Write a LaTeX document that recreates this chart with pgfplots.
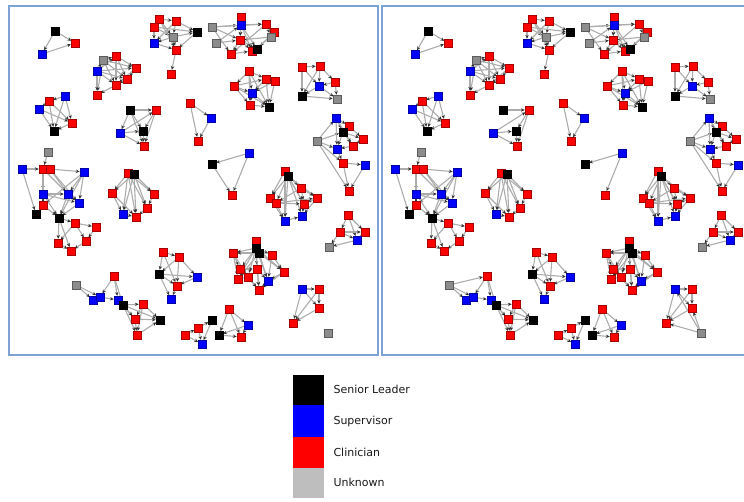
\documentclass[border=0pt]{standalone}
\usepackage{pgfplots}
\pgfplotsset{compat=1.18}
\usepackage{pgfplotstable}
\usepackage{fontspec}
\setmainfont{DejaVu Sans}
\usetikzlibrary{arrows.meta}

\pgfplotstableread{
x y
55 31
197 32
257 49
269 107
302 96
54 131
130 110
143 131
343 132
212 164
36 214
59 218
134 174
288 176
256 248
259 253
159 274
123 305
160 320
212 320
219 335
}\blacknodes

\pgfplotstableread{
x y
42 54
154 43
241 25
97 71
252 93
319 86
65 96
39 109
120 133
211 118
336 118
337 149
365 165
249 153
22 169
84 172
43 194
68 194
79 203
123 214
285 221
302 216
357 240
268 281
197 277
171 299
93 300
100 297
118 300
202 344
248 325
302 289
}\bluenodes

\pgfplotstableread{
x y
75 43
159 19
176 21
154 27
176 50
171 74
241 17
266 24
274 32
240 40
231 54
252 51
116 56
136 68
127 79
116 85
97 95
249 71
234 86
266 79
275 81
250 105
302 67
320 66
335 82
49 101
72 123
156 110
144 146
190 103
198 141
349 126
363 139
353 146
343 163
232 195
43 169
50 169
43 205
75 223
96 227
58 243
71 251
86 241
128 173
112 193
154 194
147 208
136 217
285 171
301 188
270 198
276 203
317 198
304 204
349 191
348 215
340 232
365 232
256 241
233 253
272 255
240 269
257 269
284 272
238 279
248 277
259 290
163 252
179 257
177 286
114 276
143 304
135 319
137 335
185 335
198 328
229 309
241 337
319 289
319 308
293 323
}\rednodes

\pgfplotstableread{
x y
173 37
212 27
216 43
271 37
103 60
337 99
317 141
48 152
329 247
76 285
328 333
}\graynodes

\pgfplotstableread{
x1 y1 x2 y2
55 31 75 43
55 31 42 54
42 54 75 43
159 19 176 21
159 19 154 27
159 19 173 37
176 21 197 32
176 21 173 37
154 27 154 43
154 27 173 37
173 37 197 32
173 37 154 43
154 43 176 50
173 37 176 50
197 32 176 50
159 19 176 50
154 27 197 32
176 50 171 74
176 21 154 43
212 27 241 25
212 27 240 40
212 27 231 54
216 43 240 40
216 43 241 25
241 17 241 25
241 25 266 24
241 25 240 40
241 25 257 49
266 24 274 32
266 24 271 37
274 32 257 49
271 37 240 40
240 40 231 54
240 40 252 51
240 40 257 49
231 54 252 51
252 51 257 49
241 25 252 51
241 17 240 40
271 37 252 51
266 24 231 54
212 27 266 24
103 60 116 56
103 60 136 68
103 60 127 79
103 60 116 85
116 56 136 68
116 56 127 79
116 56 116 85
97 71 103 60
97 71 116 56
97 71 127 79
97 71 116 85
97 71 97 95
136 68 127 79
136 68 116 85
127 79 116 85
116 85 97 95
97 71 136 68
103 60 97 95
249 71 234 86
249 71 266 79
249 71 252 93
249 71 269 107
234 86 252 93
234 86 250 105
234 86 269 107
266 79 275 81
266 79 252 93
266 79 269 107
275 81 269 107
252 93 250 105
252 93 269 107
250 105 269 107
234 86 266 79
249 71 250 105
275 81 252 93
302 67 320 66
302 67 319 86
302 67 302 96
320 66 335 82
320 66 319 86
335 82 319 86
319 86 302 96
319 86 337 99
302 96 337 99
335 82 337 99
320 66 302 96
65 96 49 101
49 101 39 109
49 101 72 123
49 101 54 131
39 109 54 131
39 109 72 123
65 96 72 123
65 96 54 131
72 123 54 131
130 110 156 110
156 110 143 131
156 110 144 146
120 133 143 131
120 133 144 146
143 131 144 146
120 133 156 110
190 103 211 118
190 103 198 141
211 118 198 141
336 118 349 126
336 118 343 132
336 118 353 146
349 126 343 132
349 126 363 139
343 132 363 139
343 132 353 146
343 132 337 149
363 139 353 146
353 146 337 149
317 141 343 132
317 141 337 149
317 141 343 163
317 141 349 191
337 149 343 163
343 163 365 165
343 163 349 191
365 165 349 191
317 141 336 118
336 118 337 149
249 153 212 164
249 153 232 195
48 152 43 169
22 169 43 169
43 169 50 169
50 169 84 172
22 169 36 214
43 169 43 194
50 169 68 194
43 169 68 194
84 172 68 194
84 172 79 203
84 172 43 205
43 194 68 194
43 194 59 218
68 194 79 203
68 194 59 218
79 203 59 218
43 205 59 218
43 205 43 194
59 218 75 223
59 218 58 243
59 218 71 251
75 223 96 227
75 223 86 241
96 227 86 241
86 241 71 251
58 243 71 251
75 223 58 243
50 169 79 203
84 172 59 218
43 169 43 205
43 194 79 203
134 174 112 193
134 174 154 194
134 174 147 208
134 174 123 214
134 174 136 217
128 173 112 193
128 173 123 214
128 173 136 217
128 173 147 208
112 193 123 214
154 194 147 208
147 208 136 217
123 214 136 217
112 193 136 217
128 173 154 194
288 176 301 188
288 176 270 198
288 176 276 203
288 176 317 198
288 176 304 204
288 176 285 221
288 176 302 216
285 171 270 198
285 171 285 221
285 171 304 204
301 188 317 198
301 188 304 204
270 198 276 203
270 198 285 221
276 203 285 221
276 203 304 204
317 198 304 204
304 204 302 216
317 198 302 216
285 221 302 216
276 203 317 198
301 188 276 203
348 215 340 232
348 215 365 232
348 215 357 240
340 232 357 240
340 232 329 247
365 232 357 240
357 240 329 247
340 232 365 232
256 248 233 253
256 248 272 255
256 248 240 269
256 248 257 269
256 248 284 272
256 248 238 279
256 248 248 277
256 248 268 281
256 248 259 290
259 253 284 272
259 253 238 279
256 241 256 248
233 253 240 269
233 253 238 279
272 255 284 272
240 269 257 269
240 269 248 277
257 269 268 281
257 269 259 290
284 272 268 281
268 281 259 290
238 279 248 277
248 277 259 290
272 255 268 281
233 253 248 277
284 272 259 290
240 269 259 290
259 253 233 253
259 253 268 281
163 252 179 257
163 252 159 274
163 252 177 286
179 257 159 274
179 257 197 277
179 257 177 286
159 274 177 286
159 274 197 277
197 277 177 286
177 286 171 299
159 274 171 299
76 285 93 300
76 285 100 297
93 300 100 297
100 297 118 300
114 276 100 297
114 276 118 300
114 276 123 305
118 300 123 305
123 305 143 304
123 305 135 319
123 305 160 320
123 305 137 335
143 304 160 320
143 304 135 319
135 319 160 320
135 319 137 335
137 335 160 320
118 300 135 319
143 304 137 335
185 335 198 328
198 328 212 320
185 335 202 344
198 328 202 344
212 320 202 344
229 309 248 325
229 309 219 335
229 309 241 337
248 325 219 335
248 325 241 337
219 335 241 337
302 289 319 289
302 289 319 308
302 289 293 323
319 289 319 308
319 289 293 323
319 308 293 323
}\edges

\pgfplotstableread{
x1 y1 x2 y2
130 110 143 131
130 110 120 133
130 110 144 146
212 164 232 195
}\leftedges

\pgfplotstableread{
x1 y1 x2 y2
328 333 302 289
328 333 319 308
328 333 293 323
76 285 114 276
}\rightedges

\definecolor{framec}{RGB}{125,162,212}
\definecolor{edgec}{RGB}{172,172,172}
\definecolor{nodegray}{RGB}{140,140,140}
\definecolor{leggray}{RGB}{190,190,190}

\begin{document}
\begin{tikzpicture}
\pgfplotsset{
  edge/.style={
    quiver={u=\thisrow{x2}-\thisrow{x1}, v=\thisrow{y2}-\thisrow{y1}},
    draw=edgec, line width=1.1pt,
    -{Stealth[length=3.8pt,width=3.4pt,color=black!80]}, shorten >=4.3pt},
  nd/.style={only marks, mark=square*, mark size=4.3pt,
    mark options={fill=#1, draw=#1!65!black, line width=0.3pt}},
}
\begin{axis}[
  scale only axis, width=744pt, height=501pt,
  xmin=0, xmax=744, ymin=0, ymax=501, y dir=reverse,
  hide axis,
]
\addplot[draw=none] coordinates {(0,0) (744,501)};
% frames
\draw[framec, line width=1.6pt] (axis cs:9,6) rectangle (axis cs:378,355);
\draw[framec, line width=1.6pt] (axis cs:750,6) -- (axis cs:382,6) -- (axis cs:382,355) -- (axis cs:750,355);

% left panel
\addplot[edge] table[x=x1, y=y1] {\edges};
\addplot[edge] table[x=x1, y=y1] {\leftedges};
\addplot[nd=red] table {\rednodes};
\addplot[nd=blue] table {\bluenodes};
\addplot[nd=nodegray] table {\graynodes};
\addplot[nd=black] table {\blacknodes};

% right panel
\addplot[edge] table[x expr=\thisrow{x1}+373, y=y1] {\edges};
\addplot[edge] table[x expr=\thisrow{x1}+373, y=y1] {\rightedges};
\addplot[nd=red] table[x expr=\thisrow{x}+373, y=y] {\rednodes};
\addplot[nd=blue] table[x expr=\thisrow{x}+373, y=y] {\bluenodes};
\addplot[nd=nodegray] table[x expr=\thisrow{x}+373, y=y] {\graynodes};
\addplot[nd=black] table[x expr=\thisrow{x}+373, y=y] {\blacknodes};

% legend
\fill[black] (axis cs:293,375) rectangle (axis cs:324,405);
\fill[blue] (axis cs:293,405) rectangle (axis cs:324,437);
\fill[red] (axis cs:293,437) rectangle (axis cs:324,468);
\fill[leggray] (axis cs:293,468) rectangle (axis cs:324,498);
\node[anchor=west, font=\fontsize{11}{13}\selectfont, text=black!90] at (axis cs:330,389) {Senior Leader};
\node[anchor=west, font=\fontsize{11}{13}\selectfont, text=black!90] at (axis cs:330,421) {Supervisor};
\node[anchor=west, font=\fontsize{11}{13}\selectfont, text=black!90] at (axis cs:330,452) {Clinician};
\node[anchor=west, font=\fontsize{11}{13}\selectfont, text=black!90] at (axis cs:330,482) {Unknown};
\end{axis}
\end{tikzpicture}
\end{document}
